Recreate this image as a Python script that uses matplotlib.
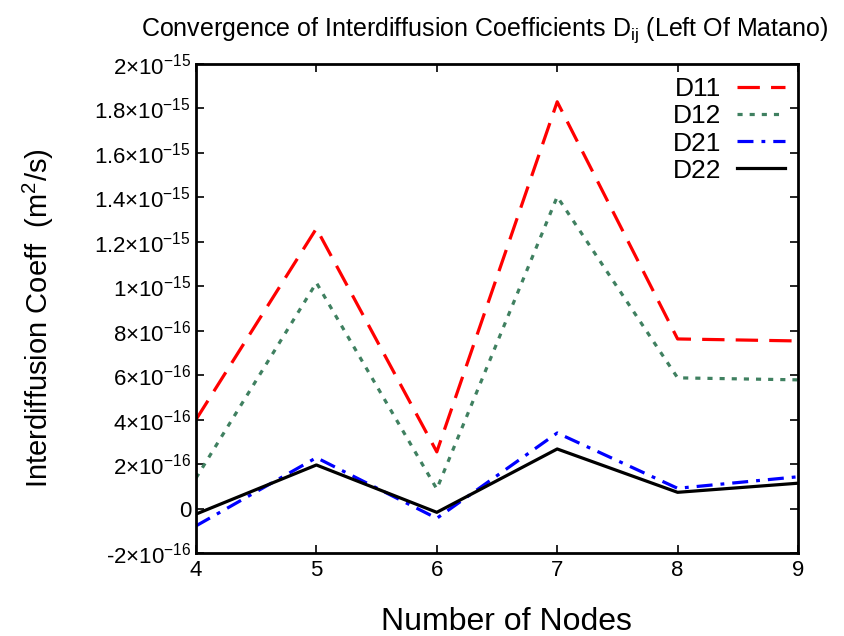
import numpy as np
import matplotlib.pyplot as plt
from matplotlib.ticker import FixedLocator, FixedFormatter

plt.rcParams['font.family'] = ['Liberation Sans', 'DejaVu Sans']
plt.rcParams['mathtext.fontset'] = 'custom'
plt.rcParams['mathtext.rm'] = 'Liberation Sans'
plt.rcParams['mathtext.it'] = 'Liberation Sans'

# data
nodes = [4, 5, 6, 7, 8, 9]
d11 = [4.0e-16, 1.26e-15, 2.55e-16, 1.83e-15, 7.63e-16, 7.54e-16]
d12 = [1.37e-16, 1.016e-15, 8.8e-17, 1.403e-15, 5.88e-16, 5.79e-16]
d21 = [-7.8e-17, 2.29e-16, -4.4e-17, 3.4e-16, 9.1e-17, 1.43e-16]
d22 = [-2.5e-17, 1.96e-16, -1.7e-17, 2.68e-16, 7.3e-17, 1.14e-16]

ytick_vals = [-2e-16, 0, 2e-16, 4e-16, 6e-16, 8e-16, 1e-15, 1.2e-15, 1.4e-15, 1.6e-15, 1.8e-15, 2e-15]
ytick_labels = [r'-2$\times$10$^{-16}$', '0', r'2$\times$10$^{-16}$', r'4$\times$10$^{-16}$',
                r'6$\times$10$^{-16}$', r'8$\times$10$^{-16}$', r'1$\times$10$^{-15}$',
                r'1.2$\times$10$^{-15}$', r'1.4$\times$10$^{-15}$', r'1.6$\times$10$^{-15}$',
                r'1.8$\times$10$^{-15}$', r'2$\times$10$^{-15}$']

fig = plt.figure(figsize=(8.44, 6.36), dpi=100)
ax = fig.add_axes([196 / 844, 1 - 553 / 636, (798 - 196) / 844, (553 - 64) / 636])

ax.plot(nodes, d11, color='red', lw=2.3, dashes=(7, 3.5), label='D11')
ax.plot(nodes, d12, color='#3f8060', lw=2.3, dashes=(1.6, 2.2), label='D12')
ax.plot(nodes, d21, color='blue', lw=2.3, dashes=(5, 2.5, 1.2, 2.5), label='D21')
ax.plot(nodes, d22, color='black', lw=2.3, label='D22')

ax.set_xlim(4, 9)
ax.set_ylim(-2e-16, 2e-15)
ax.set_xticks(nodes)
ax.yaxis.set_major_locator(FixedLocator(ytick_vals))
ax.yaxis.set_major_formatter(FixedFormatter(ytick_labels))
ax.tick_params(direction='in', top=True, right=True, length=6, width=1.2, labelsize=16)
ax.tick_params(axis='x', pad=5)
for s in ax.spines.values():
    s.set_linewidth(2)

ax.set_xlabel('Number of Nodes', fontsize=23, labelpad=19, x=0.515)
ax.set_ylabel(r'Interdiffusion Coeff  (m$^{2}$/s)', fontsize=21)
ax.yaxis.set_label_coords(-0.232, 0.48)
ax.set_title(r'Convergence of Interdiffusion Coefficients D$_{\rm ij}$ (Left Of Matano)',
             fontsize=18, pad=20, x=0.48)

ax.legend(loc='upper right', frameon=False, markerfirst=False, fontsize=19,
          handlelength=1.8, labelspacing=0.12, borderaxespad=0.2, handletextpad=0.6,
          borderpad=0.3)

fig.savefig('out.png', dpi=100)
